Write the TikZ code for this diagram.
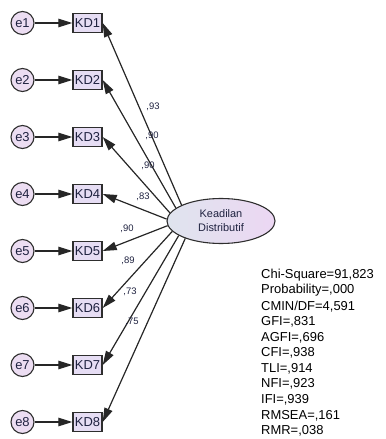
\documentclass[tikz,border=0pt]{standalone}
\usepackage{fontspec}
\setmainfont{Liberation Sans}
\usetikzlibrary{arrows.meta}
\usepgflibrary{shapes.geometric}
\definecolor{errfill}{HTML}{ECDDF2}
\definecolor{obsfill}{HTML}{E6DDF4}
\definecolor{latleft}{HTML}{DFE4EE}
\definecolor{latright}{HTML}{ECD7F3}
\definecolor{edgecol}{HTML}{2E2E2E}
\definecolor{labcol}{HTML}{1F2240}
\def\rowgap{57}
\def\rowtop{23}
\tikzset{
    errnode/.style = {
        circle, draw=edgecol, line width=1.1bp, fill=errfill, minimum size=23bp, inner sep=0pt,
        text=labcol, font=\fontsize{13}{15}\selectfont
    },
    obsnode/.style = {
        rectangle, draw=edgecol, line width=1.4bp, fill=obsfill, minimum width=29bp, minimum height=19bp,
        inner sep=0pt, text=labcol, font=\fontsize{13}{15}\selectfont
    },
    latnode/.style = {
        ellipse, draw=edgecol, line width=1.1bp, left color=latleft, right color=latright,
        minimum width=108bp, minimum height=45bp, inner sep=0pt, align=center,
        text=labcol, font=\fontsize{11}{14}\selectfont
    },
    path/.style = {
        line width=1.2bp, draw=black!85, -{Triangle[length=14bp, width=8.5bp]}
    },
    coef/.style = {
        inner sep=0pt, text=labcol, font=\fontsize{9.5}{11}\selectfont
    },
    stat/.style = {
        anchor=west, inner sep=0pt, font=\fontsize{13}{15}\selectfont
    },
}

\begin{document}
\begin{tikzpicture}[x=1bp, y=-1bp]
        \useasboundingbox (0,0) rectangle (385,439);

        % Latent factor
        \node [latnode] (kd) at (221,221) {Keadilan\\Distributif};

        % Errors and indicators
        \foreach \i in {1,...,8}{
            \pgfmathtruncatemacro\ang{158 + 48*(\i-1)/7}
            \node [errnode] (e\i) at (22.5, \rowtop + \rowgap*\i - \rowgap) {e\i};
            \node [obsnode] (kd\i) at (87.5, \rowtop + \rowgap*\i - \rowgap) {KD\i};
            \draw [path] (e\i) -- (kd\i);
            \draw [path] (kd.\ang) -- (kd\i.east);
        }

        % Loadings
        \node [coef] (c1) at (153,107) {,93};
        \node [coef] (c2) at (152,136) {,90};
        \node [coef] (c3) at (148,166) {,90};
        \node [coef] (c4) at (143,197) {,83};
        \node [coef] (c5) at (127,229) {,90};
        \node [coef] (c6) at (128,261) {,89};
        \node [coef] (c7) at (130,292) {,73};
        \node [coef] (c8) at (132,322) {,75};

        % Fit indices
        \foreach \txt [count=\i] in {{Chi-Square=91,823},{Probability=,000},{CMIN/DF=4,591},{GFI=,831},
            {AGFI=,696},{CFI=,938},{TLI=,914},{NFI=,923},{IFI=,939},{RMSEA=,161},{RMR=,038}}{
            \node [stat] (fit\i) at (261, 275 + 15.6*\i - 15.6) {\txt};
        }
    \end{tikzpicture}
\end{document}
